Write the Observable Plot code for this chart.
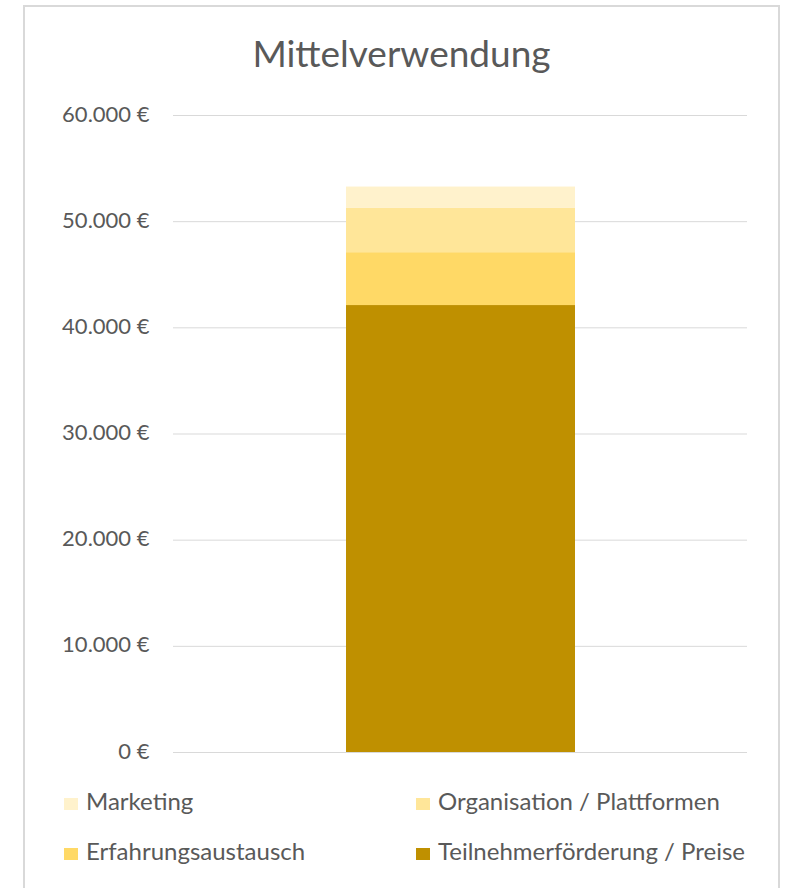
<!DOCTYPE html>
<html>
<head>
<meta charset="utf-8">
<script src="https://cdn.jsdelivr.net/npm/d3@7"></script>
<script src="https://cdn.jsdelivr.net/npm/@observablehq/plot@0.6"></script>
<style>
  html, body { margin: 0; padding: 0; background: #fff; }
  body { width: 787px; height: 888px; position: relative; overflow: hidden; font-family: Lato, "Open Sans", sans-serif; }
  #frame { position: absolute; left: 23px; top: 5px; width: 757px; height: 900px; border: 2px solid #D9D9D9; box-sizing: border-box; }
  #title { position: absolute; left: 23px; width: 757px; top: 34px; text-align: center; font-size: 37px; color: #595959; line-height: 1; }
  #chart { position: absolute; left: 0; top: 90px; }
  .leg { position: absolute; font-size: 24px; color: #595959; line-height: 1; white-space: nowrap; }
  .sw { position: absolute; width: 14px; height: 12px; }
</style>
</head>
<body>
<div id="frame"></div>
<div id="title">Mittelverwendung</div>
<div id="chart"></div>
<div id="legend"></div>
<script>
// Data
const categories = ["Mittelverwendung"];
const series = ["Teilnehmerförderung / Preise", "Erfahrungsaustausch", "Organisation / Plattformen", "Marketing"];
const values = [42100, 4980, 4200, 1980];
const colors = ["#BF9000", "#FFD966", "#FFE699", "#FFF2CC"];
const yTicks = [0, 10000, 20000, 30000, 40000, 50000, 60000];
// legend order as in reference (row-major)
const legendOrder = ["Marketing", "Organisation / Plattformen", "Erfahrungsaustausch", "Teilnehmerförderung / Preise"];

const data = series.map((s, i) => ({cat: categories[0], series: s, value: values[i]}));

const de = d3.formatLocale({decimal: ",", thousands: ".", grouping: [3], currency: ["", " €"]});
const fmt = v => de.format(",.0f")(v) + " €";

const plot = Plot.plot({
  width: 787,
  height: 680,
  marginLeft: 173,
  marginRight: 40,
  marginTop: 25,
  marginBottom: 18,
  style: {fontFamily: "Lato, 'Open Sans', sans-serif", fontSize: "22px", color: "#595959", background: "transparent"},
  x: {domain: categories, padding: 0.43, axis: null},
  y: {domain: [0, 60000], ticks: yTicks, tickFormat: fmt, label: null},
  color: {domain: series, range: colors},
  marks: [
    Plot.gridY(yTicks, {stroke: "#D9D9D9", strokeOpacity: 1, strokeWidth: 1}),
    Plot.axisY(yTicks, {tickSize: 0, tickPadding: 24, tickFormat: fmt, label: null, fill: "#595959", fontSize: 22, dy: -1}),
    Plot.barY(data, Plot.stackY({order: series, x: "cat", y: "value", fill: "series"}))
  ]
});
document.getElementById("chart").appendChild(plot);

// Legend (HTML, from arrays)
const legend = document.getElementById("legend");
const colX = [64, 416];
const rowBase = [810, 860];
legendOrder.forEach((name, i) => {
  const col = i % 2, row = Math.floor(i / 2);
  const sw = document.createElement("div");
  sw.className = "sw";
  sw.style.left = colX[col] + "px";
  sw.style.top = (rowBase[row] - 12) + "px";
  sw.style.background = colors[series.indexOf(name)];
  legend.appendChild(sw);
  const t = document.createElement("div");
  t.className = "leg";
  t.textContent = name;
  t.style.left = (colX[col] + 22) + "px";
  t.style.top = (rowBase[row] - 21.3) + "px";
  legend.appendChild(t);
});
</script>
</body>
</html>
